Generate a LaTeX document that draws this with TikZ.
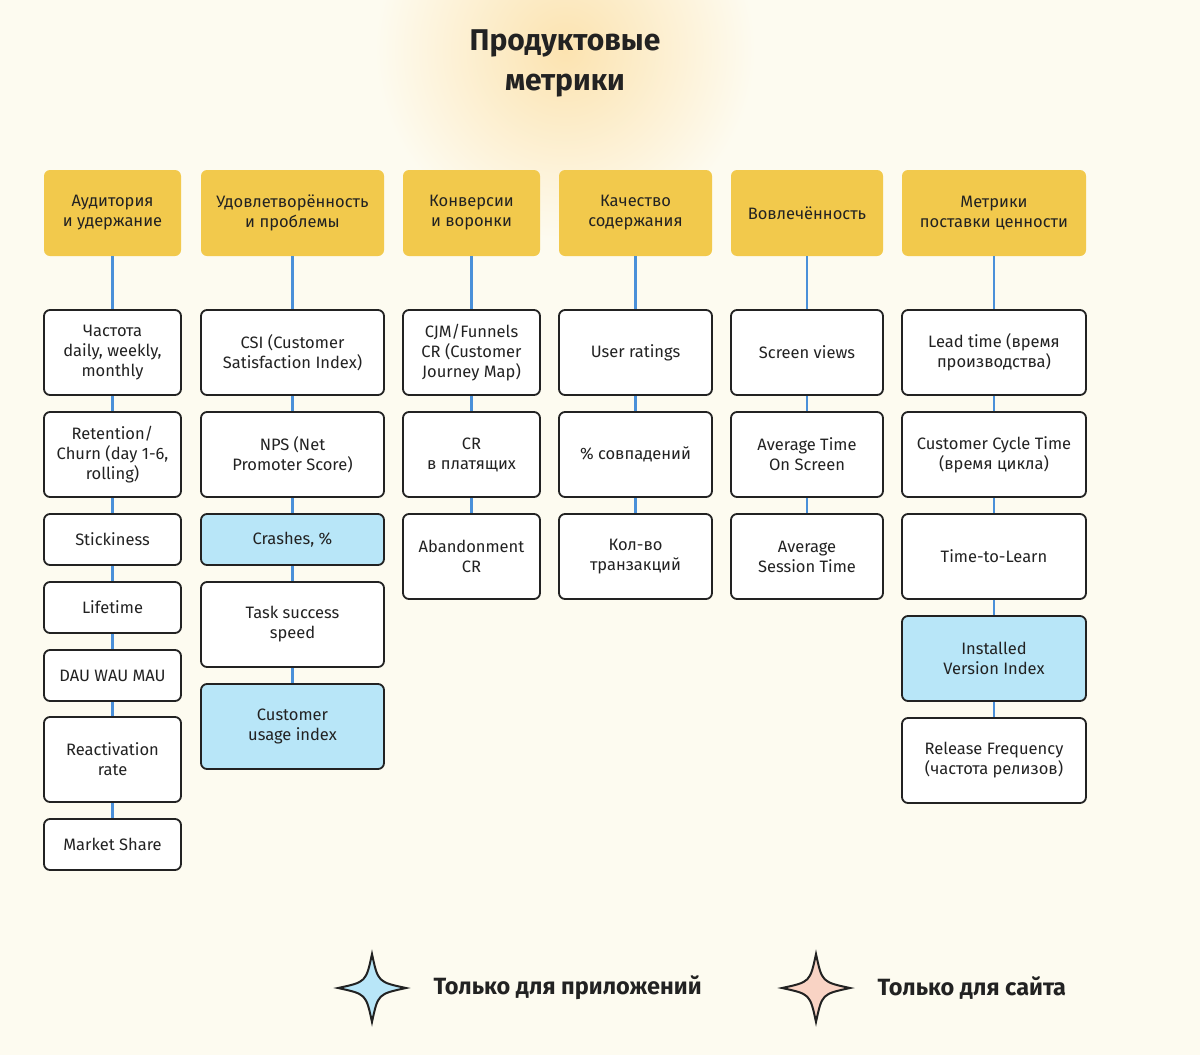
\documentclass[tikz,border=0pt]{standalone}
\usepackage{fontspec}
\setmainfont{Fira Sans}
\definecolor{bg}{HTML}{FDFBF0}
\definecolor{hd}{HTML}{F2C94C}
\definecolor{lb}{HTML}{B8E6F8}
\definecolor{pk}{HTML}{F9D3C4}
\definecolor{ln}{HTML}{4A90D9}
\definecolor{tx}{HTML}{222222}
\definecolor{glow}{HTML}{FCE3B0}
\begin{document}
\begin{tikzpicture}[x=1pt,y=-1pt,
  box/.style={draw=tx,line width=1.8pt,fill=white,rounded corners=6pt,align=center,text=tx,font=\fontsize{16.5}{20}\selectfont,inner sep=2pt},
  blu/.style={box,fill=lb},
  hdr/.style={fill=hd,rounded corners=6pt,align=center,text=tx,font=\fontsize{16.5}{20}\selectfont,minimum height=86pt},
  conn/.style={draw=ln,line width=2.2pt},
  star/.style={draw=tx,line width=2pt}]
\fill[bg] (0,0) rectangle (1200,1055);
\useasboundingbox (0,0) rectangle (1200,1055);
\begin{scope}
\clip (0,0) rectangle (1200,1055);
\shade[inner color=glow,outer color=bg] (565,50) circle (190);
\end{scope}
\node[text=tx,align=center,font=\fontsize{30}{40}\selectfont\bfseries] (title) at (565,63) {Продуктовые\\метрики};
% headers
\node[hdr,minimum width=137pt] (h1) at (112.5,213) {Аудитория\\и удержание};
\node[hdr,minimum width=183pt] (h2) at (292.5,213) {Удовлетворённость\\и проблемы};
\node[hdr,minimum width=137pt] (h3) at (471.5,213) {Конверсии\\и воронки};
\node[hdr,minimum width=153pt] (h4) at (635.5,213) {Качество\\содержания};
\node[hdr,minimum width=152pt] (h5) at (807,213) {Вовлечённость};
\node[hdr,minimum width=184pt] (h6) at (994,213) {Метрики\\поставки ценности};
% col1
\node[box,minimum width=137pt,minimum height=85pt] (a1) at (112.5,352.5) {Частота\\daily, weekly,\\monthly};
\node[box,minimum width=137pt,minimum height=85pt] (a2) at (112.5,454.5) {Retention/\\Churn (day 1-6,\\rolling)};
\node[box,minimum width=137pt,minimum height=51pt] (a3) at (112.5,539.5) {Stickiness};
\node[box,minimum width=137pt,minimum height=51pt] (a4) at (112.5,607.5) {Lifetime};
\node[box,minimum width=137pt,minimum height=51pt] (a5) at (112.5,675.5) {DAU WAU MAU};
\node[box,minimum width=137pt,minimum height=85pt] (a6) at (112.5,759.5) {Reactivation\\rate};
\node[box,minimum width=137pt,minimum height=51pt] (a7) at (112.5,844.5) {Market Share};
\draw[conn] (h1)--(a1) (a1)--(a2) (a2)--(a3) (a3)--(a4) (a4)--(a5) (a5)--(a6) (a6)--(a7);
% col2
\node[box,minimum width=183pt,minimum height=85pt] (b1) at (292.5,352.5) {CSI (Customer\\Satisfaction Index)};
\node[box,minimum width=183pt,minimum height=85pt] (b2) at (292.5,454.5) {NPS (Net\\Promoter Score)};
\node[blu,minimum width=183pt,minimum height=51pt] (b3) at (292.5,539.5) {Crashes, \%};
\node[box,minimum width=183pt,minimum height=85pt] (b4) at (292.5,624.5) {Task success\\speed};
\node[blu,minimum width=183pt,minimum height=85pt] (b5) at (292.5,726.5) {Customer\\usage index};
\draw[conn] (h2)--(b1) (b1)--(b2) (b2)--(b3) (b3)--(b4) (b4)--(b5);
% col3
\node[box,minimum width=137pt,minimum height=85pt] (c1) at (471.5,352.5) {CJM/Funnels\\CR (Customer\\Journey Map)};
\node[box,minimum width=137pt,minimum height=85pt] (c2) at (471.5,454.5) {CR\\в платящих};
\node[box,minimum width=137pt,minimum height=85pt] (c3) at (471.5,556.5) {Abandonment\\CR};
\draw[conn] (h3)--(c1) (c1)--(c2) (c2)--(c3);
% col4
\node[box,minimum width=153pt,minimum height=85pt] (d1) at (635.5,352.5) {User ratings};
\node[box,minimum width=153pt,minimum height=85pt] (d2) at (635.5,454.5) {\% совпадений};
\node[box,minimum width=153pt,minimum height=85pt] (d3) at (635.5,556.5) {Кол-во\\транзакций};
\draw[conn] (h4)--(d1) (d1)--(d2) (d2)--(d3);
% col5
\node[box,minimum width=152pt,minimum height=85pt] (e1) at (807,352.5) {Screen views};
\node[box,minimum width=152pt,minimum height=85pt] (e2) at (807,454.5) {Average Time\\On Screen};
\node[box,minimum width=152pt,minimum height=85pt] (e3) at (807,556.5) {Average\\Session Time};
\draw[conn] (h5)--(e1) (e1)--(e2) (e2)--(e3);
% col6
\node[box,minimum width=184pt,minimum height=85pt] (f1) at (994,352.5) {Lead time (время\\производства)};
\node[box,minimum width=184pt,minimum height=85pt] (f2) at (994,454.5) {Customer Cycle Time\\(время цикла)};
\node[box,minimum width=184pt,minimum height=85pt] (f3) at (994,556.5) {Time-to-Learn};
\node[blu,minimum width=184pt,minimum height=85pt] (f4) at (994,658.5) {Installed\\Version Index};
\node[box,minimum width=184pt,minimum height=85pt] (f5) at (994,760.5) {Release Frequency\\(частота релизов)};
\draw[conn] (h6)--(f1) (f1)--(f2) (f2)--(f3) (f3)--(f4) (f4)--(f5);
% legend
\draw[star,fill=lb,shift={(372,988)}] (0,-34) .. controls (6,-6) .. (34,0) .. controls (6,6) .. (0,34) .. controls (-6,6) .. (-34,0) .. controls (-6,-6) .. cycle;
\node[anchor=west,text=tx,font=\fontsize{23.5}{28}\selectfont\bfseries] (l1) at (430,988) {Только для приложений};
\draw[star,fill=pk,shift={(816,988)}] (0,-34) .. controls (6,-6) .. (34,0) .. controls (6,6) .. (0,34) .. controls (-6,6) .. (-34,0) .. controls (-6,-6) .. cycle;
\node[anchor=west,text=tx,font=\fontsize{23.5}{28}\selectfont\bfseries] (l2) at (874,988) {Только для сайта};
\end{tikzpicture}
\end{document}
